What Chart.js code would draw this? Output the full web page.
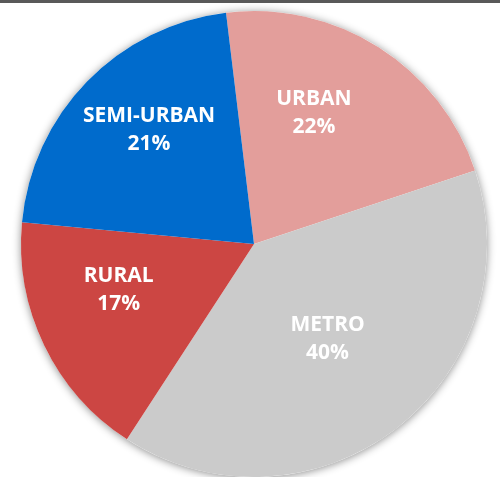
<!DOCTYPE html>
<html>
<head>
<meta charset="utf-8">
<script src="https://cdn.jsdelivr.net/npm/chart.js@4/dist/chart.umd.min.js"></script>
<style>
    html, body { margin: 0; padding: 0; background: #ffffff; }
    #topbar { position: absolute; left: 0; top: 0; width: 500px; height: 3px; background: #595959; }
    #wrap { position: absolute; left: 0; top: 0; width: 500px; height: 477px; }
</style>
</head>
<body>
<div id="wrap"><canvas id="chart"></canvas></div>
<div id="topbar"></div>
<script>
const categories = ["URBAN", "METRO", "RURAL", "SEMI-URBAN"];
// slice sizes
const shares = [21.8, 39.3, 17.3, 21.6];
// percentages as printed on the slices
const percentLabels = [22, 40, 17, 21];
const colors = ["#E39E9B", "#CBCBCB", "#CC4643", "#006BCC"];

// label placement per slice: [angle shift in degrees, fraction of radius]
const labelPlacement = [[-7.9, 0.621], [-0.3, 0.513], [7.5, 0.612], [3.3, 0.667]];

const pieShadow = {
    id: "pieShadow",
    beforeDatasetsDraw(chart) {
        const arc = chart.getDatasetMeta(0).data[0];
        if (!arc) return;
        const ctx = chart.ctx;
        ctx.save();
        ctx.shadowColor = "rgba(0, 0, 0, 0.45)";
        ctx.shadowBlur = 9;
        ctx.shadowOffsetX = 0;
        ctx.shadowOffsetY = 1;
        ctx.fillStyle = "#ffffff";
        ctx.beginPath();
        ctx.arc(arc.x, arc.y, arc.outerRadius, 0, Math.PI * 2);
        ctx.fill();
        ctx.restore();
    },
};

const sliceLabels = {
    id: "sliceLabels",
    afterDatasetsDraw(chart) {
        const ctx = chart.ctx;
        const meta = chart.getDatasetMeta(0);
        ctx.save();
        ctx.fillStyle = "#ffffff";
        ctx.font = "bold 21px 'Open Sans'";
        ctx.textAlign = "center";
        ctx.textBaseline = "middle";
        meta.data.forEach((arc, i) => {
            const mid = (arc.startAngle + arc.endAngle) / 2 + labelPlacement[i][0] * Math.PI / 180;
            const r = arc.outerRadius * labelPlacement[i][1];
            const x = arc.x + Math.cos(mid) * r;
            const y = arc.y + Math.sin(mid) * r;
            ctx.fillText(categories[i], x, y - 13);
            ctx.fillText(percentLabels[i] + "%", x, y + 15);
        });
        ctx.restore();
    },
};

new Chart(document.getElementById("chart"), {
    type: "pie",
    data: {
        labels: categories,
        datasets: [{
            data: shares,
            backgroundColor: colors,
            borderWidth: 0,
            hoverOffset: 0,
        }],
    },
    options: {
        responsive: true,
        maintainAspectRatio: false,
        animation: false,
        rotation: -6.9,
        layout: {
            padding: { left: 21, right: 13, top: 11, bottom: 0 },
        },
        plugins: {
            legend: { display: false },
            tooltip: { enabled: false },
        },
    },
    plugins: [pieShadow, sliceLabels],
});
</script>
</body>
</html>
